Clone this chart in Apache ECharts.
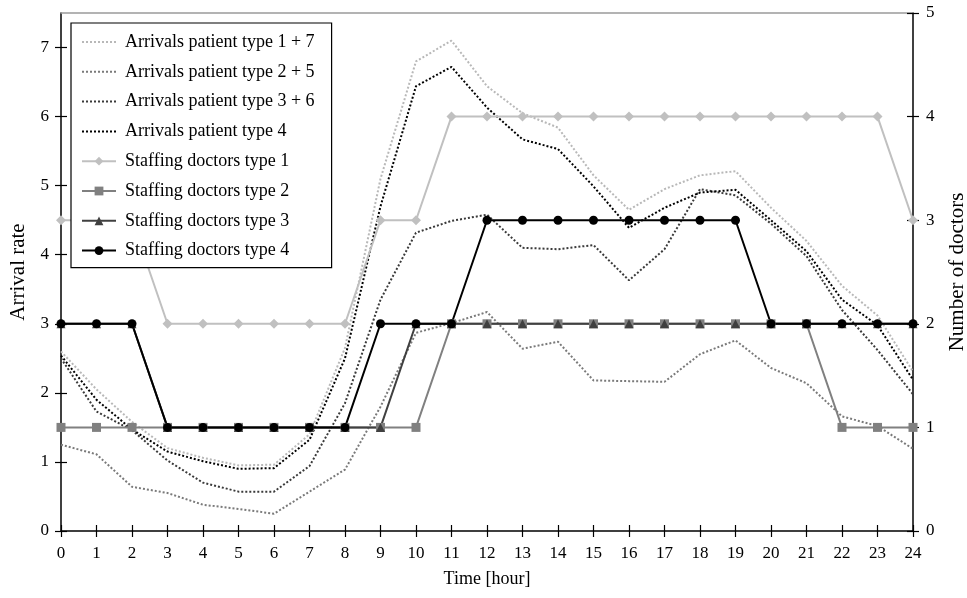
<!DOCTYPE html>
<html>
<head>
<meta charset="utf-8">
<script src="https://cdn.jsdelivr.net/npm/echarts@6/dist/echarts.min.js"></script>
<style>html,body{margin:0;padding:0;background:#fff;overflow:hidden}#c{width:967px;height:598px}</style>
</head>
<body>
<div id="c"></div>
<script>
var hours = [0,1,2,3,4,5,6,7,8,9,10,11,12,13,14,15,16,17,18,19,20,21,22,23,24];
var arrivals17 = [2.60,2.05,1.58,1.20,1.06,0.95,0.96,1.40,2.65,5.10,6.80,7.10,6.44,6.05,5.84,5.15,4.65,4.95,5.15,5.21,4.68,4.20,3.55,3.12,2.31];
var arrivals25 = [1.25,1.11,0.64,0.55,0.38,0.32,0.25,0.57,0.89,1.80,2.87,3.01,3.17,2.64,2.74,2.18,2.17,2.16,2.56,2.76,2.36,2.14,1.66,1.52,1.19];
var arrivals36 = [2.50,1.73,1.46,1.02,0.70,0.57,0.57,0.94,1.85,3.35,4.32,4.49,4.58,4.10,4.08,4.14,3.63,4.08,4.95,4.86,4.45,3.98,3.20,2.62,1.98];
var arrivals4  = [2.54,1.90,1.47,1.15,1.01,0.90,0.91,1.32,2.50,4.70,6.44,6.72,6.13,5.67,5.53,4.99,4.39,4.68,4.90,4.94,4.50,4.05,3.35,2.98,2.19];
var doctors1 = [3,3,3,2,2,2,2,2,2,3,3,4,4,4,4,4,4,4,4,4,4,4,4,4,3];
var doctors2 = [1,1,1,1,1,1,1,1,1,1,1,2,2,2,2,2,2,2,2,2,2,2,1,1,1];
var doctors3 = [2,2,2,1,1,1,1,1,1,1,2,2,2,2,2,2,2,2,2,2,2,2,2,2,2];
var doctors4 = [2,2,2,1,1,1,1,1,1,2,2,2,3,3,3,3,3,3,3,3,2,2,2,2,2];
var leftTicks = [0,1,2,3,4,5,6,7];
var names = ['Arrivals patient type 1 + 7','Arrivals patient type 2 + 5','Arrivals patient type 3 + 6','Arrivals patient type 4',
  'Staffing doctors type 1','Staffing doctors type 2','Staffing doctors type 3','Staffing doctors type 4'];

function pairs(arr){ return hours.map(function(h,i){ return [h, arr[i]]; }); }
var FONT = 'Liberation Serif';

function arrivalSeries(name, arr, color){
  return {name:name, type:'line', xAxisIndex:0, yAxisIndex:0, data:pairs(arr), showSymbol:false, symbol:'none',
    lineStyle:{color:color, width:2, type:[2,2]}, itemStyle:{color:color}, z:2, animation:false};
}
function staffSeries(name, arr, color, symbol, size){
  return {name:name, type:'line', xAxisIndex:0, yAxisIndex:1, data:pairs(arr), symbol:symbol, symbolSize:size, showAllSymbol:true,
    lineStyle:{color:color, width:2}, itemStyle:{color:color}, z:3, animation:false};
}

var legendData = names.map(function(n, i){
  return i < 4 ? {name:n, itemStyle:{opacity:0}} : {name:n};
});

var chart = echarts.init(document.getElementById('c'), null, {renderer:'canvas'});
var axisLineStyle = {color:'#000', width:1.5};
var tickStyle = {color:'#000', width:1.2};
chart.setOption({
  animation:false,
  backgroundColor:'#fff',
  textStyle:{fontFamily:FONT},
  grid:{left:61, right:54, top:13, bottom:67, outerBoundsMode:'none', containLabel:false},
  legend:{
    orient:'vertical', left:71, top:23, data:legendData,
    backgroundColor:'#fff', borderColor:'#000', borderWidth:1.2,
    padding:[9,17,7,10], itemGap:9.8, itemWidth:34, itemHeight:11,
    textStyle:{fontFamily:FONT, fontSize:18, color:'#000', lineHeight:20, padding:[0,0,0,4]}
  },
  xAxis:[
    {type:'value', min:0, max:24, interval:1, position:'bottom',
     axisLine:{show:true, onZero:false, lineStyle:axisLineStyle}, axisTick:{show:true, inside:false, length:6, lineStyle:tickStyle},
     axisLabel:{fontFamily:FONT, fontSize:17, color:'#000', margin:14}, splitLine:{show:false},
     name:'Time [hour]', nameLocation:'middle', nameGap:39, nameTextStyle:{fontFamily:FONT, fontSize:18, color:'#000'}},
    {type:'value', min:0, max:24, interval:1, position:'bottom',
     axisLine:{show:false, onZero:false}, axisTick:{show:true, inside:true, length:6, lineStyle:tickStyle},
     axisLabel:{show:false}, splitLine:{show:false}},
    {type:'value', min:0, max:24, interval:1, position:'top',
     axisLine:{show:true, onZero:false, lineStyle:{color:'#9a9a9a', width:1.5}}, axisTick:{show:false},
     axisLabel:{show:false}, splitLine:{show:false}}
  ],
  yAxis:[
    {type:'value', min:0, max:7.5, position:'left',
     axisLine:{show:true, onZero:false, lineStyle:axisLineStyle},
     axisTick:{show:true, inside:false, length:6, customValues:leftTicks, lineStyle:tickStyle},
     axisLabel:{fontFamily:FONT, fontSize:17, color:'#000', margin:12, customValues:leftTicks}, splitLine:{show:false},
     name:'Arrival rate', nameLocation:'middle', nameRotate:90, nameGap:32, nameTextStyle:{fontFamily:FONT, fontSize:21, color:'#000'}},
    {type:'value', min:0, max:5, interval:1, position:'right',
     axisLine:{show:true, onZero:false, lineStyle:axisLineStyle},
     axisTick:{show:true, inside:false, length:6, lineStyle:tickStyle},
     axisLabel:{fontFamily:FONT, fontSize:17, color:'#000', margin:13}, splitLine:{show:false},
     name:'Number of doctors', nameLocation:'middle', nameRotate:90, nameGap:34, nameTextStyle:{fontFamily:FONT, fontSize:21, color:'#000'}},
    {type:'value', min:0, max:7.5, position:'left',
     axisLine:{show:false, onZero:false}, axisTick:{show:true, inside:true, length:6, customValues:leftTicks, lineStyle:tickStyle},
     axisLabel:{show:false}, splitLine:{show:false}},
    {type:'value', min:0, max:5, interval:1, position:'right',
     axisLine:{show:false, onZero:false}, axisTick:{show:true, inside:true, length:6, lineStyle:tickStyle},
     axisLabel:{show:false}, splitLine:{show:false}}
  ],
  series:[
    arrivalSeries(names[0], arrivals17, '#b8b8b8'),
    arrivalSeries(names[1], arrivals25, '#7a7a7a'),
    arrivalSeries(names[2], arrivals36, '#3a3a3a'),
    arrivalSeries(names[3], arrivals4, '#000000'),
    staffSeries(names[4], doctors1, '#c0c0c0', 'diamond', 10),
    staffSeries(names[5], doctors2, '#808080', 'rect', 9),
    staffSeries(names[6], doctors3, '#404040', 'triangle', 9),
    staffSeries(names[7], doctors4, '#000000', 'circle', 9)
  ]
});
</script>
</body>
</html>
